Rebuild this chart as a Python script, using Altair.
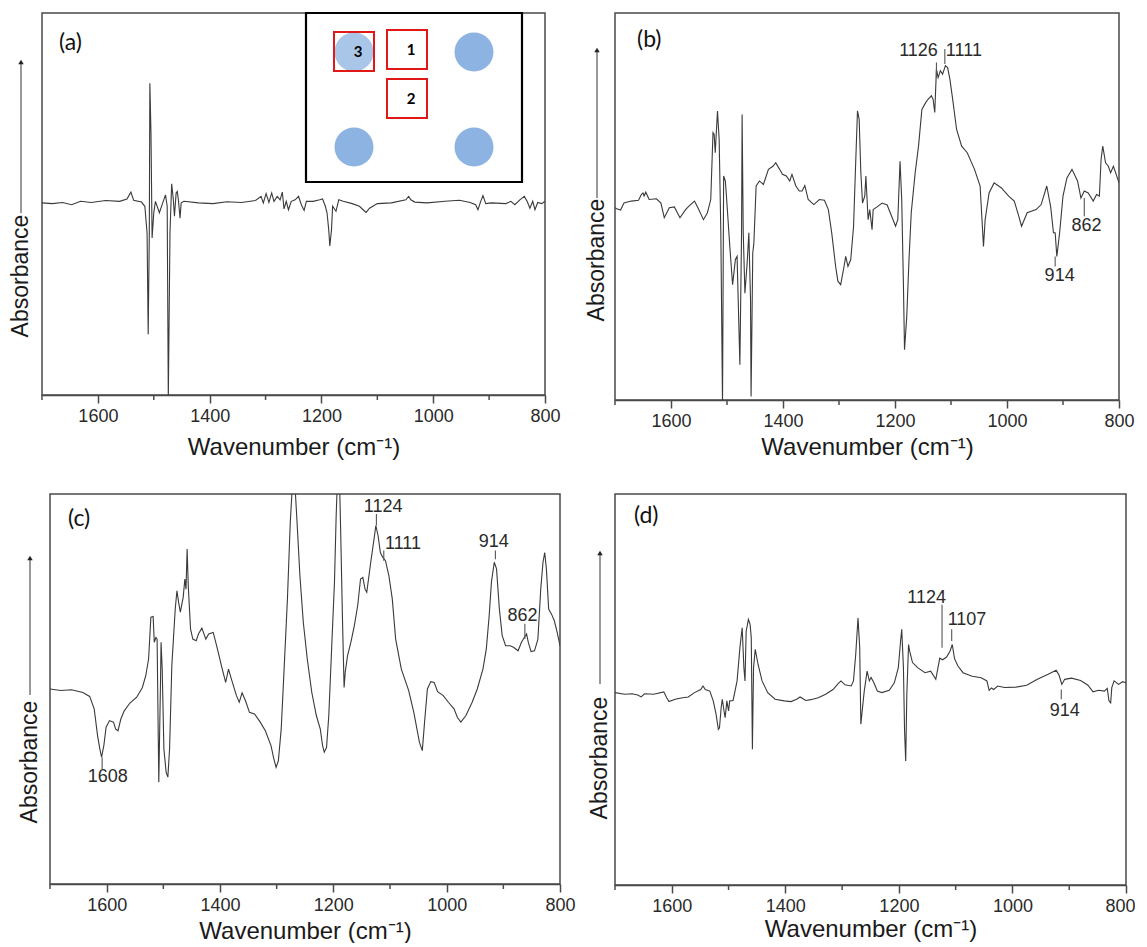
import altair as alt
import pandas as pd

FONT = "Liberation Sans"
LINE_COLOR = "#3a3a3a"
FRAME = "#4a4a4a"
MAJOR_TICKS = [1600, 1400, 1200, 1000, 800]
MINOR_TICKS = [1700, 1500, 1300, 1100, 900]

# ---------------- panel (a) ----------------
A_WN = [1700, 1682, 1663, 1647, 1631, 1612, 1586, 1561, 1548, 1541, 1536, 1522, 1516, 1512, 1510, 1508,
        1507, 1505, 1503, 1500, 1497, 1490, 1484, 1479, 1476, 1474, 1471, 1468, 1465, 1463, 1460, 1458,
        1456, 1453, 1451, 1446, 1420, 1394, 1369, 1343, 1318, 1308, 1304, 1299, 1294, 1289, 1285, 1279,
        1274, 1270, 1267, 1263, 1259, 1254, 1247, 1241, 1236, 1231, 1227, 1215, 1203, 1198, 1193, 1190,
        1187, 1185, 1182, 1180, 1174, 1169, 1161, 1145, 1132, 1124, 1120, 1114, 1100, 1075, 1049, 1044,
        1040, 1033, 1011, 979, 953, 934, 924, 920, 915, 911, 906, 896, 870, 861, 854, 845, 837, 832,
        827, 822, 818, 813, 806, 800]
A_VAL = [50.3, 50.1, 50.4, 49.8, 50.7, 50.4, 50.9, 50.7, 51.3, 53.1, 51.0, 50.5, 49.4, 42.4, 15.9, 42.4,
         81.6, 68.5, 41.1, 47.7, 50.7, 47.7, 50.3, 52.4, 49.4, -1.0, 42.4, 55.3, 51.1, 46.8, 52.9, 53.3,
         51.1, 46.3, 50.3, 50.7, 50.3, 50.1, 50.6, 50.4, 50.9, 52.0, 50.3, 52.7, 50.4, 52.9, 50.7, 52.0,
         51.1, 53.1, 48.7, 50.7, 48.5, 50.7, 51.1, 52.0, 49.8, 48.3, 50.7, 50.7, 51.1, 51.3, 49.4, 47.7,
         43.3, 39.0, 43.3, 49.4, 48.1, 51.1, 50.7, 50.1, 49.4, 48.3, 47.8, 48.9, 50.1, 50.3, 51.1, 52.0,
         51.1, 50.5, 50.3, 50.7, 51.0, 50.4, 49.8, 48.5, 50.7, 52.2, 50.1, 50.3, 50.1, 50.7, 49.8, 51.1,
         52.0, 50.7, 48.9, 50.7, 48.5, 50.4, 50.1, 50.7]

# ---------------- panel (b) ----------------
B_WN = [1700, 1697, 1690, 1684, 1671, 1658, 1653, 1650, 1648, 1645, 1639, 1626, 1618, 1612, 1603, 1594,
        1584, 1574, 1568, 1558, 1552, 1542, 1535, 1529, 1525, 1523, 1521, 1517, 1514, 1511, 1508, 1506,
        1503, 1501, 1495, 1490, 1485, 1482, 1477, 1474, 1473, 1471, 1468, 1464, 1461, 1458, 1457, 1454,
        1452, 1448, 1442, 1435, 1426, 1418, 1413, 1406, 1401, 1394, 1388, 1384, 1377, 1371, 1366, 1361,
        1355, 1345, 1335, 1326, 1319, 1313, 1306, 1302, 1297, 1291, 1288, 1284, 1279, 1274, 1271, 1267,
        1264, 1261, 1258, 1254, 1252, 1248, 1245, 1241, 1239, 1232, 1223, 1214, 1206, 1199, 1195, 1191,
        1188, 1185, 1183, 1179, 1175, 1171, 1164, 1158, 1152, 1145, 1141, 1135, 1132, 1129, 1126, 1123,
        1119, 1115, 1110, 1106, 1102, 1097, 1090, 1081, 1071, 1058, 1048, 1045, 1042, 1039, 1032, 1023,
        1010, 997, 987, 979, 974, 964, 948, 939, 929, 922, 917, 914, 911, 906, 900, 893, 884, 874, 868,
        862, 855, 846, 840, 835, 832, 829, 824, 819, 815, 810, 805, 800]
B_VAL = [49.7, 49.4, 49.1, 50.9, 51.4, 51.6, 53.1, 53.5, 52.7, 53.7, 51.8, 52.0, 50.9, 47.1, 49.7, 49.9,
         47.1, 49.2, 50.1, 51.4, 49.7, 46.6, 48.4, 51.8, 69.1, 68.7, 63.9, 74.7, 67.4, 43.2, -1.0, 57.9,
         56.6, 52.7, 39.7, 29.8, 36.3, 37.1, 9.1, 43.2, 73.8, 43.2, 27.6, 35.4, 43.2, 25.9, 0.9, 38.0,
         40.6, 55.3, 56.6, 55.7, 59.6, 60.4, 61.3, 59.6, 58.3, 57.9, 56.6, 58.3, 55.3, 54.0, 54.0, 55.4,
         51.8, 50.5, 51.8, 51.6, 49.2, 43.2, 34.5, 30.7, 29.8, 34.5, 37.1, 34.5, 36.3, 44.9, 57.9, 74.7,
         72.5, 58.7, 50.9, 52.7, 57.9, 46.6, 49.2, 44.0, 49.2, 49.9, 50.9, 50.4, 47.5, 44.9, 46.6, 61.7,
         51.8, 30.2, 13.0, 21.6, 36.3, 48.4, 58.7, 65.6, 75.1, 76.9, 77.7, 78.6, 77.7, 74.3, 85.5, 83.3,
         85.1, 84.2, 86.4, 85.9, 82.9, 77.7, 69.9, 65.6, 63.9, 59.6, 55.3, 47.5, 39.7, 46.6, 53.5, 56.1,
         54.8, 52.7, 51.4, 47.5, 44.9, 48.4, 49.2, 50.5, 55.3, 49.9, 43.2, 43.2, 37.1, 43.2, 52.7, 57.4,
         59.6, 56.6, 52.2, 54.0, 53.5, 51.4, 53.1, 52.7, 62.2, 65.6, 61.3, 60.4, 58.7, 60.4, 58.3, 56.1]

# ---------------- panel (c) ----------------
C_WN = [1700, 1681, 1662, 1642, 1630, 1622, 1616, 1612, 1609, 1605, 1601, 1595, 1588, 1584, 1580, 1575,
        1569, 1559, 1547, 1537, 1531, 1526, 1522, 1518, 1516, 1513, 1511, 1508, 1505, 1504, 1502, 1499,
        1495, 1492, 1489, 1485, 1479, 1476, 1473, 1470, 1465, 1462, 1460, 1458, 1456, 1452, 1448, 1442,
        1438, 1432, 1425, 1420, 1412, 1406, 1396, 1390, 1385, 1380, 1371, 1366, 1361, 1355, 1348, 1339,
        1329, 1320, 1310, 1305, 1301, 1297, 1292, 1288, 1281, 1276, 1273, 1270, 1267, 1264, 1259, 1253,
        1246, 1238, 1230, 1223, 1219, 1216, 1212, 1208, 1203, 1198, 1195, 1192, 1189, 1187, 1184, 1181,
        1179, 1175, 1169, 1163, 1157, 1152, 1148, 1144, 1141, 1134, 1129, 1125, 1121, 1117, 1113, 1108,
        1102, 1096, 1090, 1080, 1067, 1058, 1048, 1043, 1039, 1034, 1028, 1022, 1016, 1006, 997, 987,
        981, 975, 966, 955, 946, 936, 930, 925, 921, 916, 912, 907, 902, 896, 888, 882, 874, 868, 863,
        859, 856, 851, 845, 839, 834, 830, 827, 824, 820, 815, 810, 805, 800]
C_VAL = [50.0, 49.6, 49.8, 49.1, 48.1, 44.9, 38.0, 34.6, 32.5, 35.5, 40.2, 41.9, 41.5, 39.7, 39.3, 42.3,
         44.4, 46.4, 47.9, 50.4, 53.4, 57.7, 68.4, 68.6, 62.0, 63.2, 62.8, 26.1, 51.7, 62.0, 55.1, 34.6,
         28.6, 27.4, 34.6, 56.0, 70.5, 75.2, 72.2, 69.7, 73.5, 78.2, 75.6, 85.9, 76.5, 65.4, 62.8, 62.4,
         64.1, 65.6, 62.8, 64.1, 64.5, 61.1, 55.1, 51.7, 55.1, 52.6, 48.3, 46.6, 49.0, 47.0, 44.0, 43.6,
         41.5, 39.3, 35.5, 32.1, 29.9, 31.6, 39.7, 51.7, 73.1, 92.7, 100.4, 107.0, 100.4, 92.7, 79.1, 67.1,
         57.7, 49.1, 43.2, 39.7, 35.5, 33.8, 35.0, 43.2, 60.3, 77.4, 94.4, 107.0, 103.0, 90.2, 68.8, 50.4,
         54.3, 58.5, 62.0, 66.2, 71.4, 78.2, 78.6, 75.6, 74.8, 82.5, 87.6, 91.9, 89.3, 85.0, 83.8, 82.9,
         79.1, 73.1, 62.8, 55.1, 49.6, 44.0, 36.3, 34.2, 41.5, 50.0, 51.9, 51.7, 49.3, 48.3, 46.6, 44.9,
         42.7, 41.5, 43.2, 46.6, 50.0, 55.1, 60.3, 68.8, 77.4, 82.5, 80.8, 70.5, 63.7, 61.1, 61.1, 60.7,
         59.8, 62.0, 63.2, 64.1, 62.0, 59.6, 59.8, 62.8, 75.6, 82.5, 85.0, 80.8, 70.5, 69.2, 67.5, 64.5,
         61.1]

# ---------------- panel (d) ----------------
D_WN = [1700, 1683, 1670, 1660, 1654, 1648, 1632, 1614, 1609, 1605, 1594, 1581, 1571, 1560, 1549, 1545,
        1541, 1533, 1527, 1522, 1518, 1516, 1513, 1511, 1508, 1506, 1503, 1500, 1498, 1492, 1485, 1480,
        1476, 1473, 1471, 1469, 1465, 1462, 1460, 1458, 1456, 1453, 1448, 1441, 1431, 1418, 1402, 1390,
        1380, 1374, 1364, 1355, 1342, 1329, 1316, 1307, 1302, 1295, 1284, 1280, 1276, 1272, 1269, 1267,
        1264, 1261, 1256, 1252, 1249, 1244, 1238, 1230, 1217, 1208, 1201, 1197, 1195, 1192, 1190, 1188,
        1186, 1183, 1181, 1176, 1167, 1154, 1144, 1135, 1128, 1123, 1116, 1110, 1106, 1102, 1096, 1087,
        1071, 1055, 1045, 1041, 1037, 1033, 1026, 1014, 994, 975, 956, 937, 923, 918, 913, 908, 896,
        880, 867, 858, 848, 838, 833, 830, 827, 825, 821, 813, 806, 800]
D_VAL = [49.2, 48.8, 48.9, 48.6, 48.1, 48.9, 48.8, 49.4, 47.9, 46.9, 47.5, 47.9, 48.1, 49.2, 50.0, 50.9,
         50.0, 49.6, 47.1, 43.7, 39.8, 40.2, 45.4, 47.5, 44.5, 42.8, 47.1, 44.5, 47.1, 47.2, 52.2, 60.7,
         65.8, 55.6, 52.2, 64.9, 67.9, 66.6, 63.2, 34.7, 55.6, 60.3, 56.4, 52.2, 49.2, 47.5, 47.1, 46.9,
         47.5, 48.1, 47.2, 47.4, 47.9, 48.8, 50.0, 51.5, 52.2, 51.2, 50.9, 52.2, 59.0, 68.3, 60.7, 41.1,
         45.4, 49.6, 54.7, 52.2, 53.1, 51.7, 49.6, 49.2, 49.8, 51.7, 55.6, 62.4, 65.4, 55.6, 39.4, 31.7,
         48.8, 61.5, 59.8, 56.9, 55.6, 54.3, 54.7, 52.6, 58.0, 57.6, 58.3, 59.8, 61.5, 57.9, 56.0, 54.3,
         53.4, 53.0, 52.2, 49.8, 50.4, 50.0, 50.9, 50.5, 50.6, 51.1, 52.6, 53.9, 54.9, 53.7, 51.3, 52.6,
         52.9, 52.3, 51.1, 49.4, 49.8, 49.6, 50.3, 47.1, 46.6, 50.5, 52.2, 51.3, 52.0, 51.7]

# ---------------- peak annotations ----------------
B_ANN_LABEL = ["1126", "1111", "914", "862"]
B_ANN_WN = [1126, 1111, 914, 862]
B_ANN_Y1 = [83.3, 86.8, 34.5, 47.5]
B_ANN_Y2 = [87.2, 90.7, 37.1, 52.2]
B_ANN_TX = [1158, 1077, 906, 858]
B_ANN_TY = [90.1, 90.1, 32.1, 44.9]

C_ANN_LABEL = ["1608", "1124", "1111", "914", "862"]
C_ANN_WN = [1608, 1124, 1111, 914, 862]
C_ANN_Y1 = [29.5, 91.9, 82.9, 83.3, 62.8]
C_ANN_Y2 = [32.5, 94.9, 85.5, 85.5, 66.7]
C_ANN_TX = [1598, 1112, 1077, 917, 866]
C_ANN_TY = [27.4, 96.6, 87.2, 87.8, 68.8]

D_ANN_LABEL = ["1124", "1107", "914"]
D_ANN_WN = [1124, 1107, 914]
D_ANN_Y1 = [60.7, 62.4, 47.5]
D_ANN_Y2 = [71.7, 65.4, 50.0]
D_ANN_TX = [1151, 1080, 908]
D_ANN_TY = [73.4, 67.9, 44.5]

# ---------------- inset schematic of panel (a) ----------------
INSET_BOX = (264, 480, 0, 169)
INSET_CIRCLES_X = [312, 432, 312, 432]
INSET_CIRCLES_Y = [39, 39, 134, 134]
INSET_SQ_LABEL = ["3", "1", "2"]
INSET_SQ_X1 = [292, 345, 345]
INSET_SQ_X2 = [332, 385, 385]
INSET_SQ_Y1 = [19, 17, 66]
INSET_SQ_Y2 = [58, 56, 105]


def make_panel(wn, val, W, H, letter, letter_xy, arrow, title_pad, ann=None, inset=False, x_off=0,
               flush=False):
    xs = alt.Scale(domain=[1700, 800], range=[x_off, x_off + W], nice=False, zero=False)
    ys = alt.Scale(domain=[0, 100], nice=False, zero=False)
    axis_kw = dict(values=MAJOR_TICKS, tickSize=8, tickWidth=1.5, tickColor=FRAME,
                   domainColor=FRAME, domainWidth=1.5, labelFont=FONT, labelFontSize=18,
                   labelColor="#2a2a2a", labelPadding=4, grid=False, title="Wavenumber (cm⁻¹)",
                   titleFont=FONT, titleFontSize=24, titleFontWeight="normal", titleColor="#1a1a1a",
                   titlePadding=title_pad, format="d")
    if flush:
        axis_kw.update(labelFlush=1, labelFlushOffset=9)
    else:
        axis_kw.update(labelFlush=False)
    xaxis = alt.Axis(**axis_kw)
    df = pd.DataFrame({"wn": wn, "a": val})
    layers = []
    # frame (top / left / right sides)
    layers.append(
        alt.Chart(pd.DataFrame({"t": [0]})).mark_rect(
            fillOpacity=0, stroke=FRAME, strokeWidth=1.5).encode(
            x=alt.value(x_off), x2=alt.value(x_off + W), y=alt.value(0), y2=alt.value(H))
    )
    layers.append(
        alt.Chart(df).mark_line(color=LINE_COLOR, strokeWidth=1.1, clip=True).encode(
            x=alt.X("wn:Q", scale=xs, axis=xaxis),
            y=alt.Y("a:Q", scale=ys, axis=None),
        )
    )
    layers.append(
        alt.Chart(pd.DataFrame({"wn": MINOR_TICKS})).mark_rule(color=FRAME, strokeWidth=1.5).encode(
            x=alt.X("wn:Q", scale=xs, axis=xaxis), y=alt.value(H), y2=alt.value(H + 5)
        )
    )
    if ann is not None:
        adf = pd.DataFrame({"label": ann[0], "wn": ann[1], "y1": ann[2], "y2": ann[3],
                            "tx": ann[4], "ty": ann[5]})
        layers.append(
            alt.Chart(adf).mark_rule(color="#555555", strokeWidth=1.1).encode(
                x=alt.X("wn:Q", scale=xs, axis=xaxis),
                y=alt.Y("y1:Q", scale=ys, axis=None), y2="y2:Q")
        )
        layers.append(
            alt.Chart(adf).mark_text(font=FONT, fontSize=18, color="#2a2a2a", baseline="middle").encode(
                x=alt.X("tx:Q", scale=xs, axis=xaxis),
                y=alt.Y("ty:Q", scale=ys, axis=None), text="label:N")
        )
    # panel letter
    layers.append(
        alt.Chart(pd.DataFrame({"t": [letter]})).mark_text(
            font="Lato", fontSize=23, color="#111111", align="left", baseline="middle").encode(
            x=alt.value(x_off + letter_xy[0]), y=alt.value(letter_xy[1]), text="t:N")
    )
    # "Absorbance" with arrow
    ax, tip, lbot, tcen = arrow
    ax = ax + x_off
    layers.append(
        alt.Chart(pd.DataFrame({"t": ["Absorbance"]})).mark_text(
            font=FONT, fontSize=23, color="#1a1a1a", angle=270, align="center", baseline="middle").encode(
            x=alt.value(ax), y=alt.value(tcen), text="t:N")
    )
    layers.append(
        alt.Chart(pd.DataFrame({"t": [0]})).mark_rule(color="#555555", strokeWidth=1.2).encode(
            x=alt.value(ax), y=alt.value(tip + 4), y2=alt.value(lbot))
    )
    layers.append(
        alt.Chart(pd.DataFrame({"t": [0]})).mark_point(
            shape="triangle-up", filled=True, size=30, color="#222222", opacity=1).encode(
            x=alt.value(ax), y=alt.value(tip + 4))
    )
    if inset:
        bx1, bx2, by1, by2 = INSET_BOX
        layers.append(
            alt.Chart(pd.DataFrame({"x1": [bx1], "x2": [bx2], "y1": [by1], "y2": [by2]})).mark_rect(
                fill="white", stroke="#000000", strokeWidth=2.2).encode(
                x=alt.X("x1:Q", scale=None), x2="x2:Q", y=alt.Y("y1:Q", scale=None), y2="y2:Q")
        )
        layers.append(
            alt.Chart(pd.DataFrame({"cx": INSET_CIRCLES_X, "cy": INSET_CIRCLES_Y})).mark_circle(
                size=1520, color="#8db3e2", opacity=1).encode(
                x=alt.X("cx:Q", scale=None), y=alt.Y("cy:Q", scale=None))
        )
        sq = pd.DataFrame({"label": INSET_SQ_LABEL, "x1": INSET_SQ_X1, "x2": INSET_SQ_X2,
                           "y1": INSET_SQ_Y1, "y2": INSET_SQ_Y2})
        sq["xm"] = (sq["x1"] + sq["x2"]) / 2
        sq["ym"] = (sq["y1"] + sq["y2"]) / 2
        layers.append(
            alt.Chart(sq).mark_rect(fill="white", fillOpacity=0.25, stroke="#e01818", strokeWidth=2).encode(
                x=alt.X("x1:Q", scale=None), x2="x2:Q", y=alt.Y("y1:Q", scale=None), y2="y2:Q")
        )
        layers.append(
            alt.Chart(sq).mark_text(font="Lato", fontSize=15, fontWeight="bold", color="#000000",
                                    baseline="middle", dx=4).encode(
                x=alt.X("xm:Q", scale=None), y=alt.Y("ym:Q", scale=None), text="label:N")
        )
    return alt.layer(*layers).properties(width=W + x_off, height=H)


pa = make_panel(A_WN, A_VAL, 503, 382, "(a)", (17, 30), (-21, 45, 200, 263), 10, inset=True)
pb = make_panel(B_WN, B_VAL, 504, 387, "(b)", (22, 27), (-18, 33, 185, 247), 5,
                ann=(B_ANN_LABEL, B_ANN_WN, B_ANN_Y1, B_ANN_Y2, B_ANN_TX, B_ANN_TY))
pc = make_panel(C_WN, C_VAL, 510, 390, "(c)", (18, 25), (-20, 60, 201, 268), 5,
                ann=(C_ANN_LABEL, C_ANN_WN, C_ANN_Y1, C_ANN_Y2, C_ANN_TX, C_ANN_TY), x_off=8)
pd_ = make_panel(D_WN, D_VAL, 511, 391, "(d)", (19, 22), (-15, 55, 190, 264), 2,
                 ann=(D_ANN_LABEL, D_ANN_WN, D_ANN_Y1, D_ANN_Y2, D_ANN_TX, D_ANN_TY), flush=True)

row1 = alt.hconcat(pa, pb, spacing=25)
row2 = alt.hconcat(pc, pd_, spacing=13)
chart = alt.concat(row1, row2, columns=1, spacing=34).properties(
    padding={"left": 2, "top": 3, "right": 0, "bottom": 0}
).configure(background="white").configure_view(stroke=None)

chart.save("out.html", embed_options={"renderer": "svg", "actions": False})
